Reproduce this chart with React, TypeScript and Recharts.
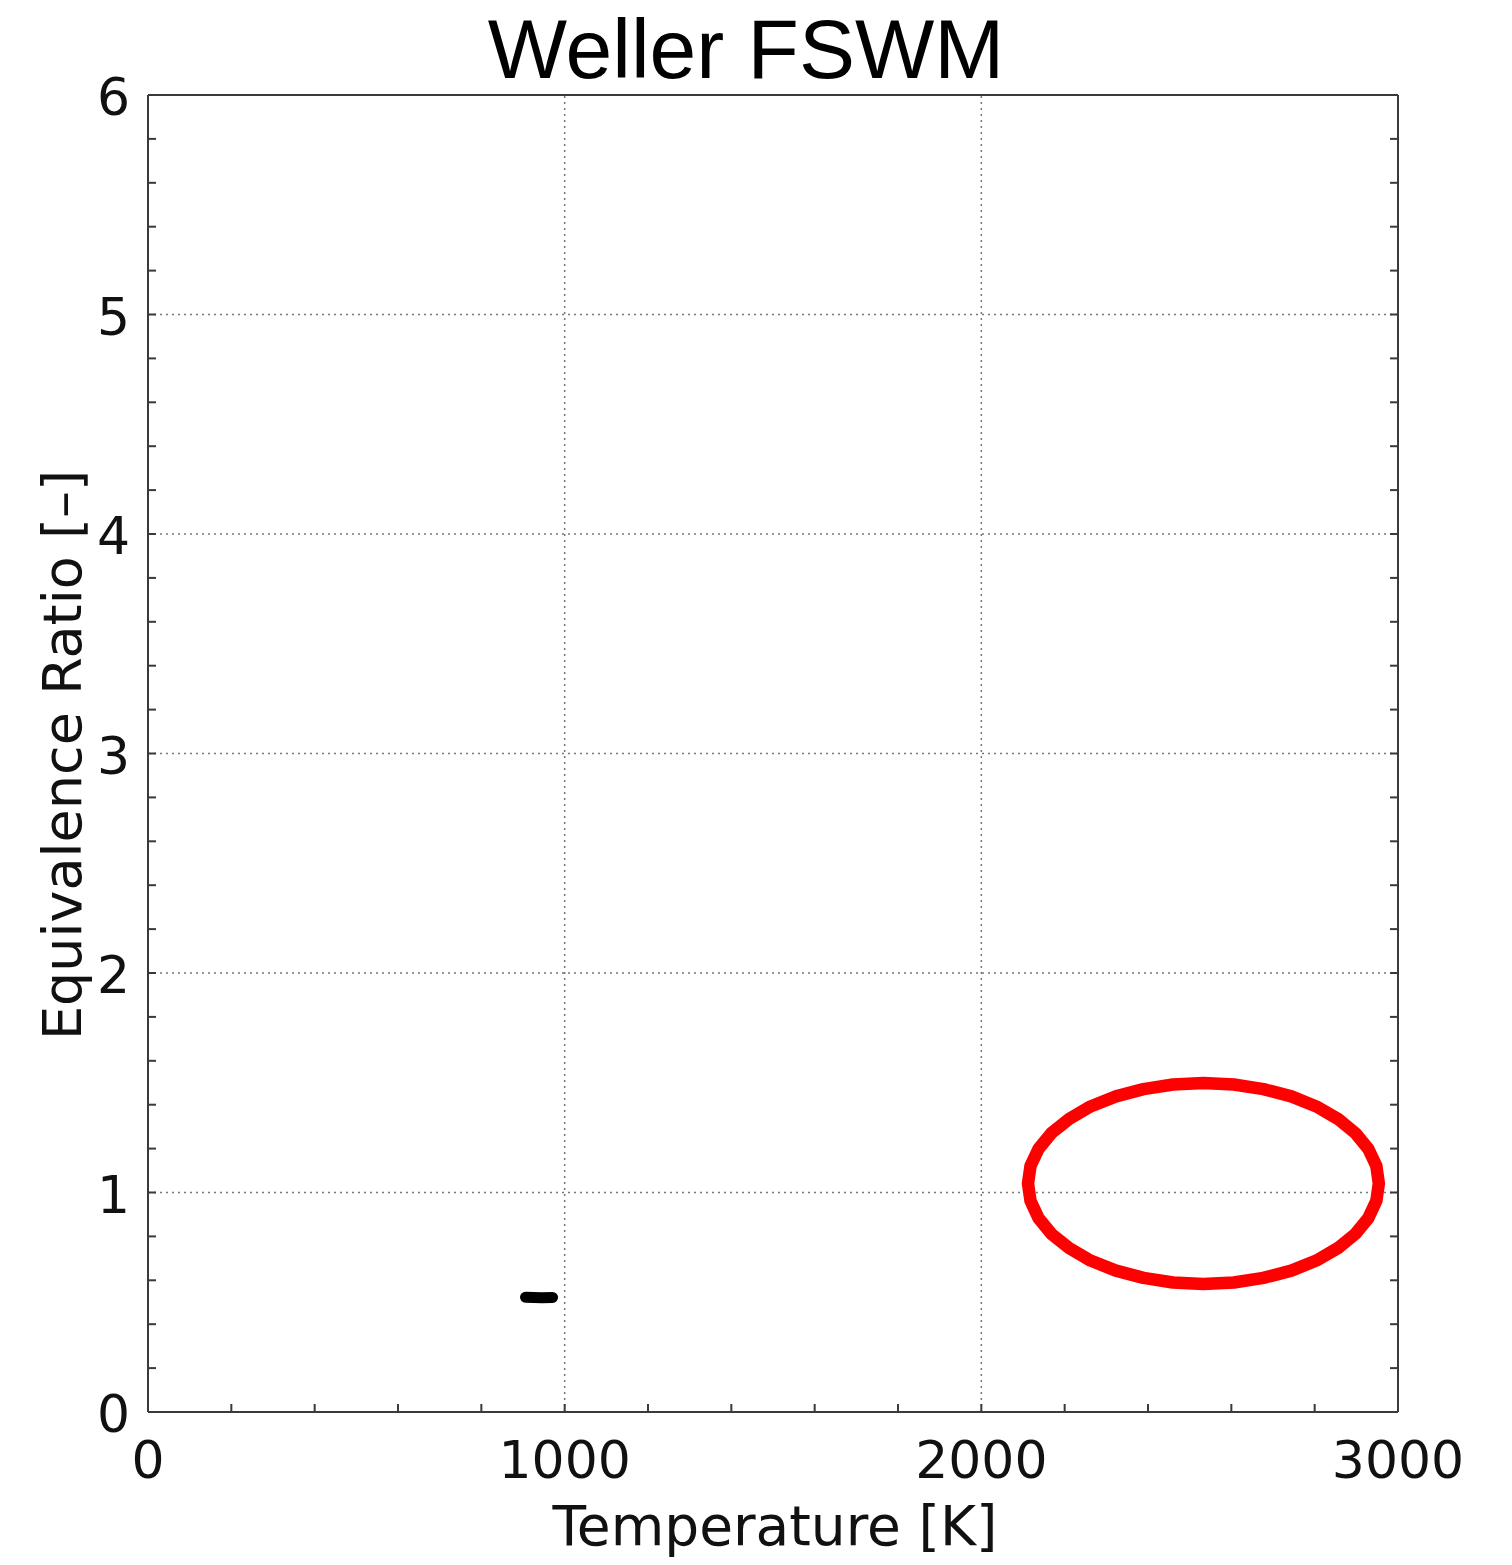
import React from 'react';
import { LineChart, Line, XAxis, YAxis, ReferenceLine } from 'recharts';

// ---- data ----
const title = 'Weller FSWM';
const xLabel = 'Temperature [K]';
const yLabel = 'Equivalence Ratio [–]';

const xTicks = [0, 200, 400, 600, 800, 1000, 1200, 1400, 1600, 1800, 2000, 2200, 2400, 2600, 2800, 3000];
const xMajor = [0, 1000, 2000, 3000];
const yTicks = [0, 0.2, 0.4, 0.6, 0.8, 1, 1.2, 1.4, 1.6, 1.8, 2, 2.2, 2.4, 2.6, 2.8, 3, 3.2, 3.4, 3.6, 3.8, 4, 4.2, 4.4, 4.6, 4.8, 5, 5.2, 5.4, 5.6, 5.8, 6];
const yMajor = [0, 1, 2, 3, 4, 5, 6];
const xGrid = [1000, 2000];
const yGrid = [1, 2, 3, 4, 5];

// black simulation result (short horizontal streak)
const simT = [906, 925, 945, 971];
const simPhi = [0.523, 0.522, 0.521, 0.522];

// red ellipse outline (points read around the ellipse, closed curve)
const ellT = [2954, 2948, 2929, 2898, 2856, 2804, 2744, 2677, 2606, 2533, 2460, 2389, 2323, 2262, 2211, 2168, 2137, 2118, 2112, 2118, 2137, 2168, 2211, 2262, 2323, 2389, 2460, 2533, 2606, 2677, 2744, 2804, 2856, 2898, 2929, 2948];
const ellPhi = [1.041, 1.121, 1.198, 1.270, 1.335, 1.392, 1.438, 1.471, 1.492, 1.499, 1.492, 1.471, 1.438, 1.392, 1.335, 1.270, 1.198, 1.121, 1.041, 0.962, 0.884, 0.812, 0.747, 0.690, 0.644, 0.611, 0.590, 0.583, 0.590, 0.611, 0.644, 0.690, 0.747, 0.812, 0.884, 0.962];

const simData = simT.map((t, i) => ({ t, phi: simPhi[i] }));
const ellData = ellT.map((t, i) => ({ t, phi: ellPhi[i] }));

const AXIS = '#3a3a3a';
const TICK_FONT = '"DejaVu Sans", "Open Sans", sans-serif';

const BottomTick = (props: any) => {
  const { x, y, payload } = props;
  const v = payload.value;
  return (
    <g>
      <line x1={x} x2={x} y1={y} y2={y - 8} stroke={AXIS} strokeWidth={2} />
      {xMajor.includes(v) && (
        <text x={x} y={y + 66} textAnchor="middle" fontSize={52} fontFamily={TICK_FONT} fill="#111">
          {v}
        </text>
      )}
    </g>
  );
};

const TopTick = (props: any) => {
  const { x, y } = props;
  return <line x1={x} x2={x} y1={y} y2={y + 8} stroke={AXIS} strokeWidth={2} />;
};

const LeftTick = (props: any) => {
  const { x, y, payload } = props;
  const v = payload.value;
  const major = yMajor.some((m) => Math.abs(m - v) < 1e-9);
  return (
    <g>
      <line x1={x} x2={x + 8} y1={y} y2={y} stroke={AXIS} strokeWidth={2} />
      {major && (
        <text x={x - 18} y={y + 20} textAnchor="end" fontSize={52} fontFamily={TICK_FONT} fill="#111">
          {v}
        </text>
      )}
    </g>
  );
};

const RightTick = (props: any) => {
  const { x, y } = props;
  return <line x1={x} x2={x - 8} y1={y} y2={y} stroke={AXIS} strokeWidth={2} />;
};

export default function App() {
  const W = 1512;
  const H = 1565;
  return (
    <div style={{ position: 'absolute', left: 0, top: 0, width: W, height: H, background: '#fff' }}>
      <LineChart
        width={W}
        height={H}
        margin={{ top: 85, right: 104, bottom: 53, left: 48 }}
      >
        <XAxis
          dataKey="t"
          type="number"
          domain={[0, 3000]}
          ticks={xTicks}
          interval={0}
          tickSize={0}
          tickMargin={0}
          height={100}
          axisLine={{ stroke: AXIS, strokeWidth: 2 }}
          tickLine={false}
          tick={<BottomTick />}
          allowDataOverflow
        />
        <XAxis
          xAxisId="top"
          orientation="top"
          type="number"
          domain={[0, 3000]}
          ticks={xTicks}
          interval={0}
          tickSize={0}
          tickMargin={0}
          height={10}
          axisLine={{ stroke: AXIS, strokeWidth: 2 }}
          tickLine={false}
          tick={<TopTick />}
          allowDataOverflow
        />
        <YAxis
          type="number"
          domain={[0, 6]}
          ticks={yTicks}
          interval={0}
          tickSize={0}
          tickMargin={0}
          width={100}
          axisLine={{ stroke: AXIS, strokeWidth: 2 }}
          tickLine={false}
          tick={<LeftTick />}
          allowDataOverflow
        />
        <YAxis
          yAxisId="r"
          orientation="right"
          type="number"
          domain={[0, 6]}
          ticks={yTicks}
          interval={0}
          tickSize={0}
          tickMargin={0}
          width={10}
          axisLine={{ stroke: AXIS, strokeWidth: 2 }}
          tickLine={false}
          tick={<RightTick />}
          allowDataOverflow
        />
        {xGrid.map((g) => (
          <ReferenceLine key={'x' + g} x={g} stroke="#777" strokeWidth={1.5} strokeDasharray="2 4" />
        ))}
        {yGrid.map((g) => (
          <ReferenceLine key={'y' + g} y={g} stroke="#777" strokeWidth={1.5} strokeDasharray="2 4" />
        ))}
        <Line
          data={ellData}
          dataKey="phi"
          type="linearClosed"
          stroke="#ff0000"
          strokeWidth={12.5}
          strokeLinejoin="round"
          dot={false}
          activeDot={false}
          isAnimationActive={false}
        />
        <Line
          data={simData}
          dataKey="phi"
          type="linear"
          stroke="#000000"
          strokeWidth={11}
          strokeLinecap="round"
          dot={false}
          activeDot={false}
          isAnimationActive={false}
        />
      </LineChart>
      <svg
        width={W}
        height={H}
        style={{ position: 'absolute', left: 0, top: 0, pointerEvents: 'none' }}
      >
        <text
          x={746}
          y={78}
          textAnchor="middle"
          fontSize={84}
          fontFamily='"Liberation Sans", Arial, sans-serif'
          fill="#000"
        >
          {title}
        </text>
        <text
          x={775}
          y={1545}
          textAnchor="middle"
          fontSize={55}
          fontFamily={TICK_FONT}
          fill="#111"
        >
          {xLabel}
        </text>
        <text
          x={81}
          y={755}
          textAnchor="middle"
          fontSize={54}
          fontFamily={TICK_FONT}
          fill="#111"
          transform="rotate(-90 81 755)"
        >
          {yLabel}
        </text>
      </svg>
    </div>
  );
}
